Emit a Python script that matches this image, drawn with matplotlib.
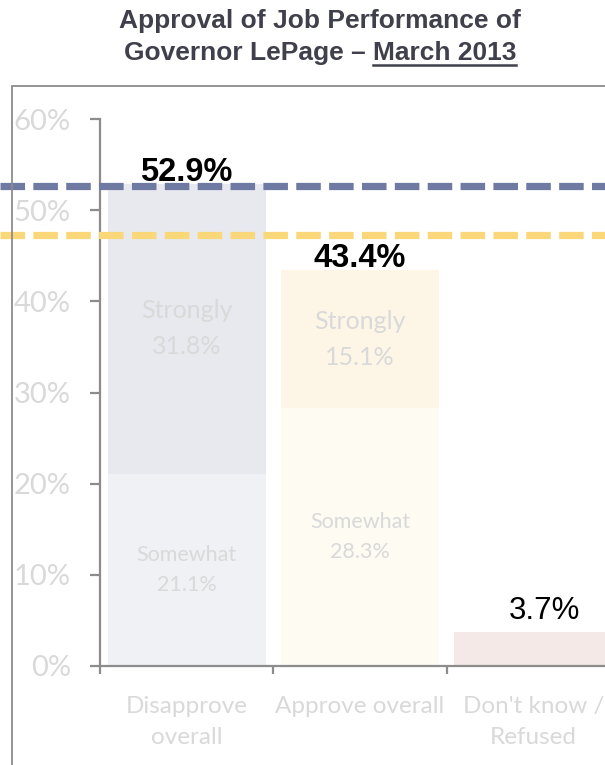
import numpy as np
import matplotlib
matplotlib.use('Agg')
import matplotlib.pyplot as plt
from matplotlib.patches import Rectangle
from matplotlib.lines import Line2D

# Dane
categories = ['Disapprove\noverall', 'Approve overall', "Don't know /\nRefused"]
somewhat = [21.1, 28.3, 3.7]
strongly = [31.8, 15.1, 0.0]
totals = [52.9, 43.4, 3.7]
ref_disapprove = 52.6
ref_approve = 47.3
yticks = [0, 10, 20, 30, 40, 50, 60]

col_somewhat = ['#f0f1f5', '#fefbf3', '#f4e9e6']
col_strongly = ['#e8e9ef', '#fdf6e7', '#f4e9e6']
grey_txt = '#d9d9d9'
axis_col = '#8c8c8c'

fig = plt.figure(figsize=(6.05, 7.65), dpi=100)
W, H = 605, 765
ax = fig.add_axes([100 / W, (H - 666) / H, 520 / W, (666 - 119) / H])

x = np.arange(len(categories))
bw = 0.912
ax.bar(x, somewhat, width=bw, color=col_somewhat, zorder=1)
ax.bar(x, strongly, width=bw, bottom=somewhat, color=col_strongly, zorder=1)

ax.set_xlim(-0.5, 2.5)
ax.set_ylim(0, 60)

# Etykiety wewnątrz słupków
for i in range(2):
    ax.text(x[i], strongly[i] / 2 + somewhat[i], f'Strongly\n{strongly[i]:.1f}%',
            ha='center', va='center', fontsize=18, family='Lato',
            color=grey_txt, linespacing=1.7)
    ax.text(x[i], somewhat[i] / 2, f'Somewhat\n{somewhat[i]:.1f}%',
            ha='center', va='center', fontsize=15.5, family='Lato',
            color=grey_txt, linespacing=1.65)

# Wartości sumaryczne (przesunięcia etykiet jak w oryginale)
dy = [0.25, 0.4, 1.5]
dx = [0.0, 0.0, 0.065]
for i, t in enumerate(totals):
    bold = i < 2
    ax.text(x[i] + dx[i], t + dy[i], f'{t:.1f}%', ha='center', va='baseline',
            fontsize=23.5 if bold else 22.5, family='Liberation Sans',
            fontweight='bold' if bold else 'normal', color='black')

# Linie referencyjne
xmin = -100 / 520
ax.axhline(ref_disapprove, xmin=xmin, xmax=1, color='#6f7aa3', lw=5.2,
           linestyle=(0, (3.4, 1.15)), clip_on=False, zorder=3)
ax.axhline(ref_approve, xmin=xmin, xmax=1, color='#fad87a', lw=5.2,
           linestyle=(0, (3.4, 1.15)), clip_on=False, zorder=3)

# Osie
for s in ['top', 'right']:
    ax.spines[s].set_visible(False)
for s in ['left', 'bottom']:
    ax.spines[s].set_color(axis_col)
    ax.spines[s].set_linewidth(1.6)

ax.set_yticks(yticks)
ax.set_yticklabels([f'{v}%' for v in yticks], family='Lato', fontsize=21, color=grey_txt)
ax.tick_params(axis='y', length=7, width=1.6, color=axis_col, pad=14)

ax.set_xticks([-0.5, 0.5, 1.5, 2.5])
ax.set_xticklabels([])
ax.tick_params(axis='x', length=6, width=1.6, color=axis_col)
for i, c in enumerate(categories):
    ax.text(x[i], -3.3, c, ha='center', va='top', fontsize=17.5, family='Lato',
            color=grey_txt, linespacing=1.6)

# Ramka
fig.add_artist(Rectangle((12 / W, -0.1), 1.2, (H - 86) / H + 0.1, transform=fig.transFigure,
                         fill=False, edgecolor=axis_col, lw=1.3))

# Tytuł
title_col = '#40404c'
tsize = 19
fig.text(320 / W, 1 - 21 / H, 'Approval of Job Performance of', ha='center', va='center',
         fontsize=tsize, fontweight='bold', family='Liberation Sans', color=title_col)
t2 = fig.text(320 / W, 1 - 53 / H, 'Governor LePage \u2013 March 2013', ha='center', va='center',
              fontsize=tsize, fontweight='bold', family='Liberation Sans', color=title_col)

# Podkreślenie "March 2013"
renderer = fig.canvas.get_renderer()
bb = t2.get_window_extent(renderer)
tmp = fig.text(0, 0, 'March 2013', fontsize=tsize, fontweight='bold', family='Liberation Sans')
wb = tmp.get_window_extent(renderer)
tmp.remove()
y_line = bb.y0 + 0.5
fig.add_artist(Line2D([(bb.x1 - wb.width) / W, bb.x1 / W], [y_line / H, y_line / H],
                      transform=fig.transFigure, color=title_col, lw=1.8))

fig.savefig('out.png', dpi=100)
